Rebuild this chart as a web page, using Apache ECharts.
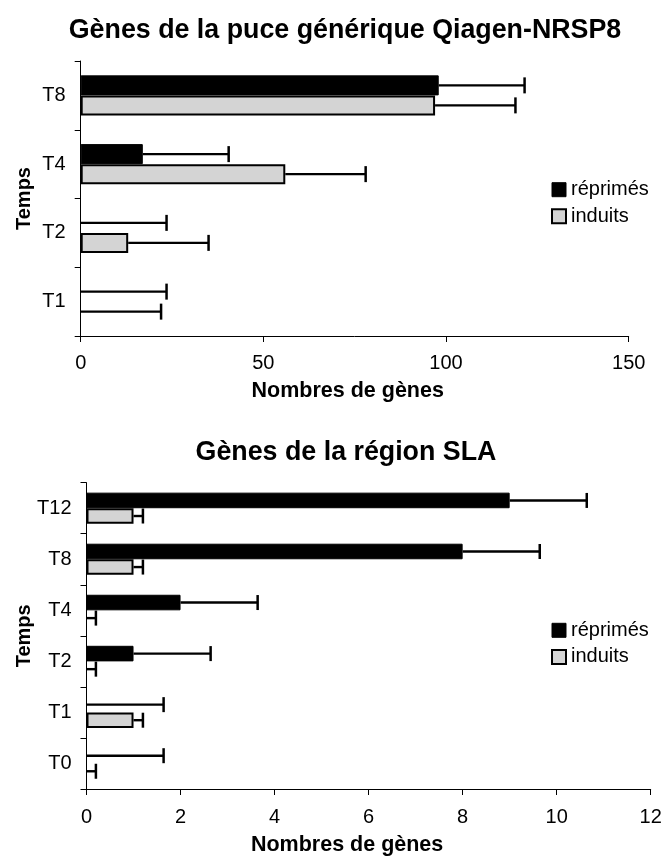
<!DOCTYPE html>
<html>
<head>
<meta charset="utf-8">
<script src="https://cdn.jsdelivr.net/npm/echarts@6/dist/echarts.min.js"></script>
<style>
html,body{margin:0;padding:0;background:#fff;}
#main{width:665px;height:857px;}
</style>
</head>
<body>
<div id="main"></div>
<script>
// ---- Chart 1: Gènes de la puce générique Qiagen-NRSP8 ----
const cats1 = ['T8', 'T4', 'T2', 'T1'];
const reprimes1 = [98, 17, 0, 0];
const reprimesErr1 = [23.5, 23.5, 23.5, 23.5];
const induits1 = [97, 56, 13, 0];
const induitsErr1 = [22, 22, 22, 22];
const xTicks1 = { min: 0, max: 150, interval: 50 };

// ---- Chart 2: Gènes de la région SLA ----
const cats2 = ['T12', 'T8', 'T4', 'T2', 'T1', 'T0'];
const reprimes2 = [9, 8, 2, 1, 0, 0];
const reprimesErr2 = [1.64, 1.64, 1.64, 1.64, 1.64, 1.64];
const induits2 = [1, 1, 0, 0, 1, 0];
const induitsErr2 = [0.2, 0.2, 0.2, 0.2, 0.2, 0.2];
const xTicks2 = { min: 0, max: 12, interval: 2 };

const titles = ['Gènes de la puce générique Qiagen-NRSP8', 'Gènes de la région SLA'];
const seriesNames = ['réprimés', 'induits'];
const xName = 'Nombres de gènes';
const yName = 'Temps';

const FONT = "'Liberation Sans', Arial, Helvetica, sans-serif";
const GRAY = '#d4d4d4';
const GAP1 = 0.418, GAP2 = 0.39;

function errData(vals, errs) {
  return vals.map((v, i) => [v, i, errs[i]]);
}
function errRender(sign, gapFrac, capHalf) {
  return function (params, api) {
    const v = api.value(0), c = api.value(1), e = api.value(2);
    const band = api.size([0, 1])[1];
    const bw = band * (1 - gapFrac) / 2;
    const y = api.coord([0, c])[1] + sign * bw / 2;
    const x0 = api.coord([v, c])[0];
    const x1 = api.coord([v + e, c])[0];
    return {
      type: 'group',
      children: [
        { type: 'line', shape: { x1: x0, y1: y, x2: x1, y2: y }, style: { stroke: '#000', lineWidth: 2.4 } },
        { type: 'line', shape: { x1: x1, y1: y - capHalf, x2: x1, y2: y + capHalf }, style: { stroke: '#000', lineWidth: 2.5 } }
      ]
    };
  };
}

function xAxisOf(idx, ticks, gap, padR, labelMargin) {
  return {
    type: 'value', gridIndex: idx, min: ticks.min, max: ticks.max, interval: ticks.interval,
    axisLine: { show: true, lineStyle: { color: '#000', width: 1 } },
    axisTick: { show: true, length: 6, lineStyle: { color: '#000', width: 1 } },
    splitLine: { show: false },
    axisLabel: { fontSize: 20, color: '#000', fontFamily: FONT, margin: labelMargin },
    name: xName, nameLocation: 'middle', nameGap: gap, nameMoveOverlap: false,
    nameTextStyle: { fontSize: 21.5, fontWeight: 'bold', color: '#000', fontFamily: FONT, padding: [0, padR, 0, 0] }
  };
}
function yAxisOf(idx, cats, gap) {
  return {
    type: 'category', gridIndex: idx, data: cats, inverse: true,
    axisLine: { show: true, lineStyle: { color: '#000', width: 1 } },
    axisTick: { show: true, length: 6, alignWithLabel: false, lineStyle: { color: '#000', width: 1 } },
    splitLine: { show: false },
    axisLabel: { fontSize: 20, color: '#000', fontFamily: FONT, margin: 15 },
    name: yName, nameLocation: 'middle', nameGap: gap, nameMoveOverlap: false,
    nameTextStyle: { fontSize: 20, fontWeight: 'bold', color: '#000', fontFamily: FONT }
  };
}
function barData(vals) {
  return vals.map(v => v === 0 ? { value: v, itemStyle: { borderWidth: 0 } } : v);
}
function barsOf(idx, rep, ind, gap) {
  return [
    { name: seriesNames[0], type: 'bar', xAxisIndex: idx, yAxisIndex: idx, data: barData(rep),
      barGap: '0%', barCategoryGap: (gap * 100) + '%',
      itemStyle: { color: '#000', borderColor: '#000', borderWidth: 1 }, animation: false },
    { name: seriesNames[1], type: 'bar', xAxisIndex: idx, yAxisIndex: idx, data: barData(ind),
      barGap: '0%', barCategoryGap: (gap * 100) + '%',
      itemStyle: { color: GRAY, borderColor: '#000', borderWidth: 2 }, animation: false }
  ];
}
function errsOf(idx, rep, repE, ind, indE, gap, capHalf) {
  return [
    { name: 'err-r' + idx, type: 'custom', xAxisIndex: idx, yAxisIndex: idx,
      renderItem: errRender(-1, gap, capHalf), data: errData(rep, repE),
      encode: { x: 0, y: 1 }, z: 3, clip: false, animation: false, silent: true },
    { name: 'err-i' + idx, type: 'custom', xAxisIndex: idx, yAxisIndex: idx,
      renderItem: errRender(1, gap, capHalf), data: errData(ind, indE),
      encode: { x: 0, y: 1 }, z: 3, clip: false, animation: false, silent: true }
  ];
}
function legendOf(top) {
  return {
    orient: 'vertical', left: 551, top: top, padding: 0, itemWidth: 14, itemHeight: 14, itemGap: 6.6,
    icon: 'rect', selectedMode: false,
    textStyle: { fontSize: 20, color: '#000', fontFamily: FONT },
    data: [
      { name: seriesNames[0], itemStyle: { color: '#000', borderColor: '#000', borderWidth: 1 } },
      { name: seriesNames[1], itemStyle: { color: GRAY, borderColor: '#000', borderWidth: 2 } }
    ]
  };
}

const chart = echarts.init(document.getElementById('main'), null, { renderer: 'canvas' });
chart.setOption({
  animation: false,
  backgroundColor: '#fff',
  title: [
    { text: titles[0], left: 345, textAlign: 'center', top: 17, padding: 0,
      textStyle: { fontSize: 26.8, fontWeight: 'bold', color: '#000', fontFamily: FONT } },
    { text: titles[1], left: 346, textAlign: 'center', top: 439, padding: 0,
      textStyle: { fontSize: 26.8, fontWeight: 'bold', color: '#000', fontFamily: FONT } }
  ],
  legend: [legendOf(179.7), legendOf(620.3)],
  grid: [
    { left: 80.7, right: 36.3, top: 61, height: 275, containLabel: false },
    { left: 86.5, right: 14.3, top: 482.7, height: 306.6, containLabel: false }
  ],
  xAxis: [xAxisOf(0, xTicks1, 44, 14, 17), xAxisOf(1, xTicks2, 45, 43, 18)],
  yAxis: [yAxisOf(0, cats1, 46.7), yAxisOf(1, cats2, 52.5)],
  series: [].concat(
    barsOf(0, reprimes1, induits1, GAP1),
    barsOf(1, reprimes2, induits2, GAP2),
    errsOf(0, reprimes1, reprimesErr1, induits1, induitsErr1, GAP1, 8),
    errsOf(1, reprimes2, reprimesErr2, induits2, induitsErr2, GAP2, 7.5)
  )
});
</script>
</body>
</html>
